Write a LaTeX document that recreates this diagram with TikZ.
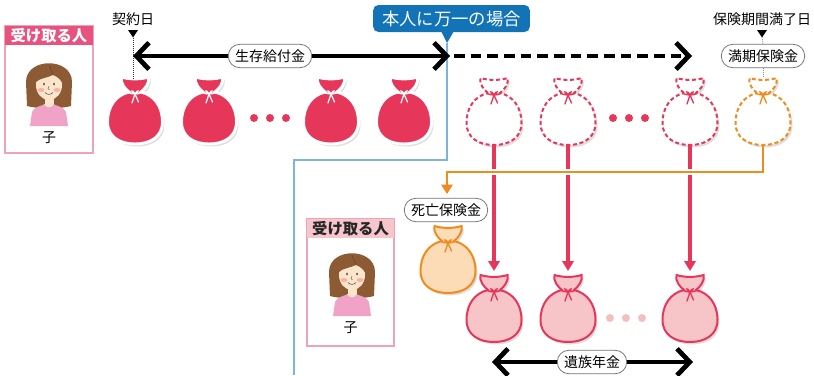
\documentclass[tikz,border=0pt]{standalone}
\usepackage{fontspec}
\setmainfont{Noto Sans CJK JP}
\usetikzlibrary{arrows.meta,calc}

\definecolor{bagred}{HTML}{E6375A}
\definecolor{bagpink}{HTML}{F7C5C8}
\definecolor{dotpink}{HTML}{F5BEBE}
\definecolor{bagorange}{HTML}{EF8C1E}
\definecolor{bagorangefill}{HTML}{FCDCB6}
\definecolor{calloutblue}{HTML}{1273B7}
\definecolor{lineblue}{HTML}{7DB3DC}
\definecolor{headerpink}{HTML}{E8527E}
\definecolor{headerlight}{HTML}{F7C6CD}
\definecolor{boxborder}{HTML}{EFA3B9}
\definecolor{hair}{HTML}{8C5B33}
\definecolor{hairdark}{HTML}{6E4325}
\definecolor{skin}{HTML}{FDE5CC}
\definecolor{shirt}{HTML}{F0A3C6}
\definecolor{cheek}{HTML}{F7B3A8}

\tikzset{
  % money bag outline, origin at the top centre of the bag
  bag/.style={insert path={(-6,15) .. controls (-10,12) and (-15,6) .. (-13.5,0)
      .. controls (-6,2.5) and (6,2.5) .. (13.5,0)
      .. controls (15,6) and (10,12) .. (6,15)
      .. controls (19,18) and (27.5,29) .. (27.5,45)
      .. controls (27.5,60) and (15,67) .. (0,67)
      .. controls (-15,67) and (-27.5,60) .. (-27.5,45)
      .. controls (-27.5,29) and (-19,18) .. (-6,15) -- cycle}},
  tie/.style={insert path={(-7,15.5) .. controls (-3,17.5) and (3,17.5) .. (7,15.5)
      (0,17) -- (-3,26) (0,17) -- (3.5,25)
      (0,17) .. controls (-2,12) and (-6,14) .. (0,17)
      (0,17) .. controls (2,12) and (6,14) .. (0,17)}},
  bagshadow/.style={fill=black, opacity=0.13},
  pics/solidbag/.style={code={
    \path[bagshadow, shift={(2,2.5)}, bag];
    \path[draw=white, line width=2.2pt, fill=bagred, bag];
    \path[draw=white, line width=0.9pt, line cap=round, tie];
  }},
  pics/dashbag/.style={code={
    \path[bagshadow, shift={(2,2.5)}, bag];
    \path[draw=#1, line width=1.5pt, dash pattern=on 3pt off 2pt, fill=white, bag];
    \path[draw=#1, line width=1pt, line cap=round, tie];
  }},
  pics/fullbag/.style 2 args={code={
    \path[bagshadow, shift={(2,2.5)}, bag];
    \path[draw=#1, line width=1.5pt, fill=#2, bag];
    \path[draw=#1, line width=1pt, line cap=round, tie];
  }},
  % girl portrait, origin at the centre of the face
  pics/girl/.style={code={
    \fill[hair] (-22,24) -- (-23,0) .. controls (-23,-25) and (23,-25) .. (23,0)
      -- (22,24) .. controls (12,27) and (-12,27) .. (-22,24) -- cycle;
    \fill[shirt] (-19,44) -- (-17,30) .. controls (-15,25) and (-8,24) .. (-4,22)
      -- (4,22) .. controls (8,24) and (15,25) .. (17,30) -- (19,44) -- cycle;
    \fill[skin] (-4.5,12) rectangle (4.5,22);
    \fill[skin] (-5,22) .. controls (-2,26.5) and (2,26.5) .. (5,22) -- cycle;
    \fill[skin] (0,3) ellipse [x radius=13, y radius=15];
    \fill[hair] (-15,5) .. controls (-16,-12) and (-7,-17) .. (0,-17)
      .. controls (8,-17) and (16,-12) .. (15,5)
      .. controls (13,-2) and (9,-5) .. (4,-7)
      .. controls (-2,-4) and (-9,-4) .. (-13,0) -- cycle;
    \draw[hairdark, line width=0.4pt] (0,-17) .. controls (2,-12) and (3,-10) .. (4,-7);
    \fill[cheek] (-8,8) ellipse [x radius=3.5, y radius=2];
    \fill[cheek] (8,8) ellipse [x radius=3.5, y radius=2];
    \fill[black!75] (-5,2) ellipse [x radius=0.9, y radius=1.5];
    \fill[black!75] (5,2) ellipse [x radius=0.9, y radius=1.5];
    \draw[black!55, line width=0.4pt] (0,4) -- (-1,7) -- (0.5,7.5);
    \draw[black!60, line width=0.5pt] (-4,10.5) .. controls (-2,13) and (2,13) .. (4,10.5);
  }},
  pill/.style={draw=black!55, fill=white, rounded corners=8.5pt, line width=0.6pt,
    minimum height=17.5pt, inner xsep=5pt, inner ysep=1pt, font=\fontsize{10.5pt}{12pt}\selectfont},
  plain/.style={font=\fontsize{10.5pt}{12pt}\selectfont, inner sep=0pt},
  barb/.style={Straight Barb[length=9.5pt,width=20pt]},
  bigarrow/.style={line width=3.6pt, {Straight Barb[length=9.5pt,width=20pt]}-{Straight Barb[length=9.5pt,width=20pt]}},
  redarrow/.style={draw=bagred, line width=2.3pt, -{Triangle[length=7.5pt,width=8.5pt]}},
  orangearrow/.style={draw=bagorange, line width=1.5pt, -{Triangle[length=7pt,width=8.5pt]}},
  header/.style={font=\fontsize{11.5pt}{13pt}\selectfont\bfseries, inner sep=0pt},
  childlabel/.style={font=\fontsize{10.5pt}{12pt}\selectfont, inner sep=0pt},
  markertri/.style={fill=black},
}

\begin{document}
\begin{tikzpicture}[x=0.75pt,y=-0.75pt]
\useasboundingbox (0,0) rectangle (814,375);

% ---- blue divider: before / after the insured event
\coordinate (ptip) at (447,43);
\coordinate (bend1) at (447,160);
\coordinate (bend2) at (294,160);
\coordinate (bottomedge) at (294,375);
\draw[lineblue, line width=0.8pt] (ptip) -- (bend1) -- (bend2) -- (bottomedge);

% ---- recipient box (top)
\fill[white] (5,26) rectangle (93,153);
\draw[boxborder, line width=0.8pt] (5,26) rectangle (93,153);
\fill[headerpink] (5,26) rectangle (93,45);
\node[header, text=white] (recv1) at (49,35.5) {受け取る人};
\pic at (49,82) {girl};
\node[childlabel] (child1) at (49,138) {子};

% ---- recipient box (bottom)
\fill[white] (307,219) rectangle (394,346);
\draw[boxborder, line width=0.8pt] (307,219) rectangle (394,346);
\fill[headerlight] (307,219) rectangle (394,238);
\node[header, text=black!85] (recv2) at (350.5,228.5) {受け取る人};
\pic at (352,272) {girl};
\node[childlabel] (child2) at (350.5,328) {子};

% ---- time line labels
\node[plain] (contract) at (133,19) {契約日};
\node[plain] (maturity) at (762,19) {保険期間満了日};
\fill[markertri] (128,30) -- (138,30) -- (133,37.5) -- cycle;
\fill[markertri] (757,30) -- (767,30) -- (762,37.5) -- cycle;

% ---- bags: survival benefit (paid)
\coordinate (s1) at (135,77);
\coordinate (s2) at (209,77);
\coordinate (s3) at (331,77);
\coordinate (s4) at (404,77);
\foreach \b in {s1,s2,s3,s4} \pic at (\b) {solidbag};
\foreach \x in {254,270,286} \fill[bagred] (\x,118) circle (4);

% ---- bags: survival benefit (not paid) and maturity benefit
\coordinate (d1) at (494,78);
\coordinate (d2) at (568,78);
\coordinate (d3) at (690,78);
\coordinate (d4) at (763,78);
\foreach \b in {d1,d2,d3} \pic at (\b) {dashbag=bagred};
\pic at (d4) {dashbag=bagorange};
\foreach \x in {613,629,645} \fill[bagred] (\x,118) circle (4);

% ---- bags: death benefit and survivors' pension
\coordinate (o1) at (448,226);
\coordinate (p1) at (494,275);
\coordinate (p2) at (568,275);
\coordinate (p3) at (690,275);
\pic at (o1) {fullbag={bagorange}{bagorangefill}};
\foreach \b in {p1,p2,p3} \pic at (\b) {fullbag={bagred}{bagpink}};
\foreach \x in {610,626,642} \fill[dotpink] (\x,318) circle (4);

% ---- dotted leaders from the date markers
\coordinate (ctri) at (133,37.5);
\coordinate (mtri) at (762,37.5);
\draw[black!80, line width=0.5pt, densely dotted] (ctri) -- ($(s1)+(-2,1)$);

% ---- main time arrows
\coordinate (start) at (133,56);
\coordinate (event) at (450,56);
\coordinate (finish) at (692,56);
\draw[bigarrow] (start) -- (event);
\draw[line width=3.6pt, dash pattern=on 8pt off 4.5pt, -{Straight Barb[length=9.5pt,width=20pt]}] ($(event)+(4,0)$) -- (finish);
\node[pill] (survival) at (270,56) {生存給付金};
\node[pill] (maturitybenefit) at (763,56) {満期保険金};
\draw[black!80, line width=0.5pt, densely dotted] (mtri) -- (maturitybenefit.north);
\draw[black!45, line width=0.5pt, densely dotted] (maturitybenefit.south) -- (d4);

% ---- callout
\node[fill=calloutblue, text=white, rounded corners=4pt, minimum width=117.5pt,
  minimum height=20.25pt, inner sep=0pt, font=\fontsize{13pt}{15pt}\selectfont] (callout) at (451.5,18.5) {本人に万一の場合};
\fill[calloutblue] (441,31) -- (454,31) -- (ptip) -- cycle;

% ---- pension flows
\foreach \i in {1,2,3} \draw[redarrow] ($(d\i)+(0,66)$) -- ($(p\i)+(0,-4)$);

% ---- maturity benefit redirected as death benefit
\coordinate (obot) at (763,144);
\coordinate (ocorner) at (447,172);
\coordinate (otip) at (447,194);
\draw[white, line width=4.5pt] (763,172) -- (ocorner);
\draw[orangearrow] (obot) |- (ocorner) -- (otip);
\node[pill] (deathbenefit) at (446,210) {死亡保険金};

% ---- survivors' pension span
\coordinate (pstart) at (492,362);
\coordinate (pend) at (693,362);
\draw[bigarrow] (pstart) -- (pend);
\node[pill] (pension) at (592,362) {遺族年金};
\end{tikzpicture}
\end{document}
